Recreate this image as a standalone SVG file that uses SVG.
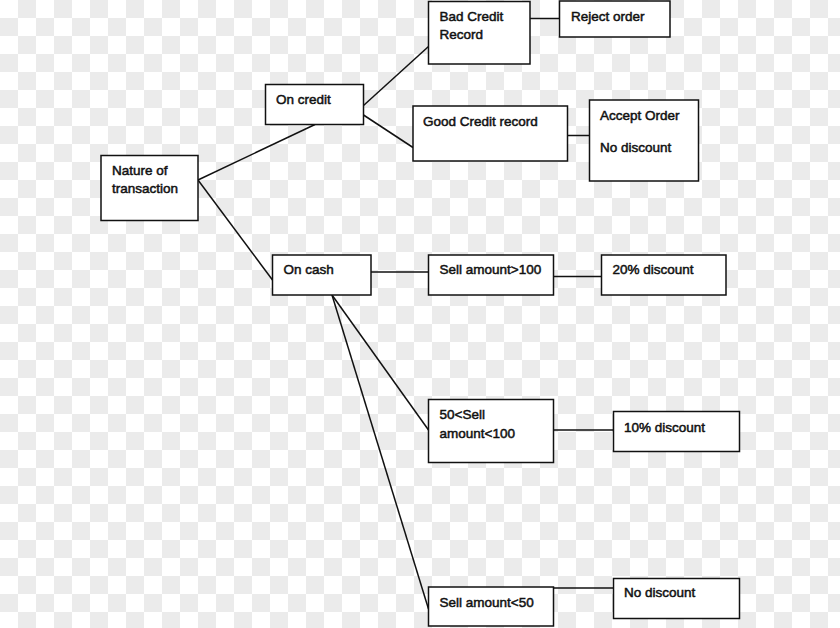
<svg xmlns="http://www.w3.org/2000/svg" width="840" height="628" viewBox="0 0 840 628">
<defs>
<pattern id="checker" x="0" y="0" width="36" height="36" patternUnits="userSpaceOnUse">
<rect x="0" y="0" width="36" height="36" fill="#ffffff"/>
<rect x="18" y="0" width="18" height="18" fill="#ebebeb"/>
<rect x="0" y="18" width="18" height="18" fill="#ebebeb"/>
</pattern>
</defs>
<style>
.box { fill: #ffffff; stroke: #111111; stroke-width: 1.5; }
.lbl { font-family: "Liberation Sans", Arial, sans-serif; font-size: 13.5px; fill: #111111; stroke: #111111; stroke-width: 0.5; }
.conn line { stroke: #111111; stroke-width: 1.5; fill: none; }
</style>
<rect x="0" y="0" width="840" height="628" fill="url(#checker)"/>
<g id="connectors" class="conn">
<line x1="198" y1="180" x2="315" y2="124.5"/>
<line x1="198" y1="180" x2="272.5" y2="280"/>
<line x1="363.5" y1="105.5" x2="428.5" y2="46.5"/>
<line x1="363.5" y1="115" x2="413" y2="147.5"/>
<line x1="530" y1="18.5" x2="559.5" y2="18.5"/>
<line x1="567.5" y1="135.5" x2="589.5" y2="135.5"/>
<line x1="371" y1="272" x2="428.5" y2="272"/>
<line x1="553.5" y1="276.5" x2="601.5" y2="276.5"/>
<line x1="332" y1="295" x2="428.5" y2="430"/>
<line x1="332" y1="295" x2="428.5" y2="609"/>
<line x1="553.5" y1="430" x2="613.5" y2="430"/>
<line x1="553.5" y1="588" x2="613.5" y2="588"/>
</g>
<g id="node-nature">
<rect class="box" x="101" y="155.5" width="97" height="65"/>
<text class="lbl" x="112" y="175">Nature of</text>
<text class="lbl" x="112" y="193">transaction</text>
</g>
<g id="node-oncredit">
<rect class="box" x="265.5" y="84.5" width="98" height="40"/>
<text class="lbl" x="276" y="104">On credit</text>
</g>
<g id="node-badcredit">
<rect class="box" x="428.5" y="1.5" width="101.5" height="62.5"/>
<text class="lbl" x="439.5" y="21">Bad Credit</text>
<text class="lbl" x="439.5" y="39">Record</text>
</g>
<g id="node-reject">
<rect class="box" x="559.5" y="1" width="110.5" height="36"/>
<text class="lbl" x="571" y="21">Reject order</text>
</g>
<g id="node-goodcredit">
<rect class="box" x="413" y="106" width="154.5" height="55"/>
<text class="lbl" x="423" y="126">Good Credit record</text>
</g>
<g id="node-accept">
<rect class="box" x="589.5" y="100" width="109" height="81"/>
<text class="lbl" x="600" y="120">Accept Order</text>
<text class="lbl" x="600" y="152">No discount</text>
</g>
<g id="node-oncash">
<rect class="box" x="272.5" y="255" width="98.5" height="40"/>
<text class="lbl" x="283.5" y="274">On cash</text>
</g>
<g id="node-sell100">
<rect class="box" x="428.5" y="255" width="125" height="40"/>
<text class="lbl" x="439.5" y="274">Sell amount&gt;100</text>
</g>
<g id="node-20">
<rect class="box" x="601.5" y="255" width="124.5" height="40"/>
<text class="lbl" x="612.5" y="274">20% discount</text>
</g>
<g id="node-sell50100">
<rect class="box" x="428.5" y="399.5" width="125" height="63"/>
<text class="lbl" x="439.5" y="418.5">50&lt;Sell</text>
<text class="lbl" x="439.5" y="437.5">amount&lt;100</text>
</g>
<g id="node-10">
<rect class="box" x="613.5" y="411.5" width="126" height="40"/>
<text class="lbl" x="624" y="432">10% discount</text>
</g>
<g id="node-sell50">
<rect class="box" x="428.5" y="587" width="125" height="39"/>
<text class="lbl" x="439.5" y="606.5">Sell amount&lt;50</text>
</g>
<g id="node-nodiscount">
<rect class="box" x="613.5" y="578.5" width="126" height="40"/>
<text class="lbl" x="624" y="597">No discount</text>
</g>
</svg>
